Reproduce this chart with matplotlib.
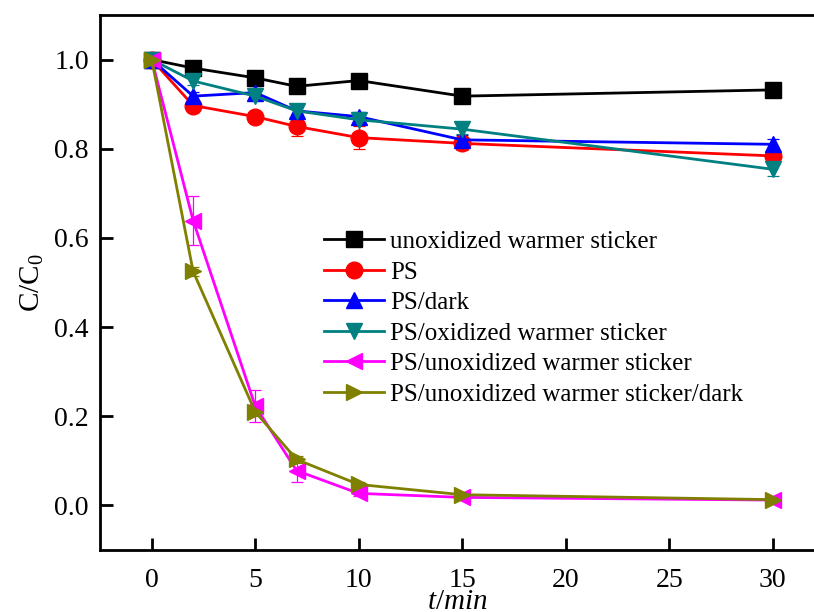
import matplotlib
matplotlib.use("Agg")
import matplotlib.pyplot as plt

plt.rcParams["font.family"] = ["Liberation Serif", "DejaVu Serif"]
plt.rcParams["mathtext.fontset"] = "custom"
plt.rcParams["mathtext.rm"] = "Liberation Serif"
plt.rcParams["mathtext.it"] = "Liberation Serif:italic"

# time points (min)
t = [0, 2, 5, 7, 10, 15, 30]

labels = [
    "unoxidized warmer sticker",
    "PS",
    "PS/dark",
    "PS/oxidized warmer sticker",
    "PS/unoxidized warmer sticker",
    "PS/unoxidized warmer sticker/dark",
]

unox = [1.0, 0.981, 0.959, 0.940, 0.953, 0.918, 0.932]
unox_err = [0.0, 0.008, 0.008, 0.008, 0.01, 0.015, 0.012]
ps = [1.0, 0.897, 0.872, 0.850, 0.825, 0.812, 0.784]
ps_err = [0.0, 0.01, 0.01, 0.022, 0.025, 0.015, 0.02]
ps_dark = [1.0, 0.918, 0.926, 0.885, 0.872, 0.820, 0.810]
ps_dark_err = [0.0, 0.01, 0.01, 0.01, 0.01, 0.01, 0.012]
ps_ox = [1.0, 0.952, 0.918, 0.885, 0.865, 0.844, 0.754]
ps_ox_err = [0.0, 0.008, 0.008, 0.008, 0.01, 0.01, 0.015]
ps_unox = [1.0, 0.639, 0.223, 0.078, 0.027, 0.018, 0.012]
ps_unox_err = [0.0, 0.055, 0.035, 0.025, 0.005, 0.005, 0.005]
ps_unox_dark = [1.0, 0.525, 0.210, 0.103, 0.047, 0.024, 0.013]
ps_unox_dark_err = [0.0, 0.01, 0.01, 0.008, 0.005, 0.005, 0.005]

series = [
    (unox, unox_err, "black", "s"),
    (ps, ps_err, "#FF0000", "o"),
    (ps_dark, ps_dark_err, "#0000FF", "^"),
    (ps_ox, ps_ox_err, "#008080", "v"),
    (ps_unox, ps_unox_err, "#FF00FF", "<"),
    (ps_unox_dark, ps_unox_dark_err, "#808000", ">"),
]

fig = plt.figure(figsize=(8.14, 6.12), dpi=100)
ax = fig.add_axes([100 / 814, 62 / 612, 714 / 814, 535 / 612])

for (y, err, color, marker), label in zip(series, labels):
    ax.errorbar(t, y, yerr=err, color=color, marker=marker, markersize=12,
                linewidth=2, elinewidth=0.9, capsize=4, capthick=0.9,
                label=label)

ax.set_xlim(-2.5, 32)
ax.set_ylim(-0.1, 1.1)
ax.set_xticks([0, 5, 10, 15, 20, 25, 30])
ax.set_yticks([0.0, 0.2, 0.4, 0.6, 0.8, 1.0])
ax.set_yticklabels(["0.0", "0.2", "0.4", "0.6", "0.8", "1.0"])

ax.spines["right"].set_visible(False)
for s in ["left", "bottom", "top"]:
    ax.spines[s].set_linewidth(2)
ax.tick_params(direction="in", length=9, width=2, labelsize=20, pad=8)
ax.tick_params(axis="x", pad=13)

ax.set_xlabel(r"$\mathit{t/min}$", fontsize=21, labelpad=-3)
ax.set_ylabel(r"C/C$_0$", fontsize=21, labelpad=6)

handles, labs = ax.get_legend_handles_labels()
handles = [h[0] for h in handles]
ax.legend(handles, labs, loc="upper left", bbox_to_anchor=(311 / 814, 1 - 218 / 612),
          bbox_transform=fig.transFigure, frameon=False, fontsize=18,
          handlelength=2.4, handletextpad=0.25, labelspacing=0.32,
          borderpad=0, numpoints=1)

fig.savefig("out.png", dpi=100)
plt.close(fig)
